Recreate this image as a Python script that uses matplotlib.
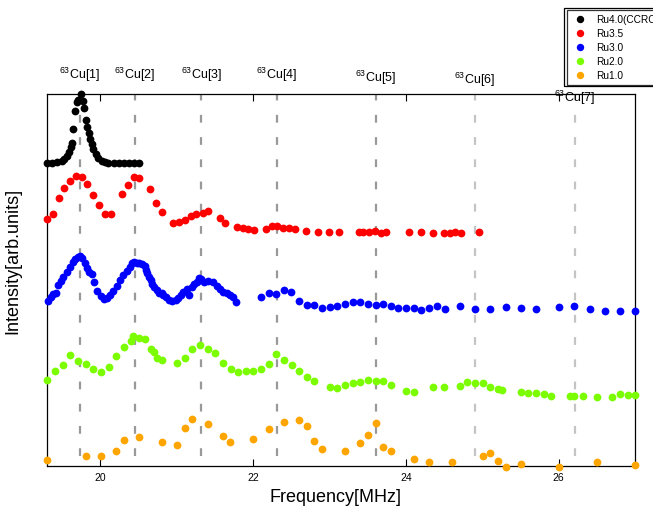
import numpy as np
import matplotlib
matplotlib.use("Agg")
import matplotlib.pyplot as plt
from matplotlib.patches import Rectangle

plt.rcParams['font.family'] = ['Liberation Sans', 'DejaVu Sans']
plt.rcParams['mathtext.fontset'] = 'custom'
plt.rcParams['mathtext.rm'] = 'Liberation Sans'
plt.rcParams['mathtext.default'] = 'regular'

##############################################
# Data (arbitrary intensity units with offsets)
##############################################
ru40_f = [19.295, 19.360, 19.426, 19.491, 19.522, 19.557, 19.591, 19.609, 19.623, 19.644,
          19.666, 19.688, 19.709, 19.741, 19.767, 19.784, 19.810, 19.827, 19.845, 19.862,
          19.885, 19.906, 19.937, 19.971, 20.016, 20.059, 20.102, 20.177, 20.242, 20.308,
          20.374, 20.439, 20.505]
ru40_i = [30.27, 30.27, 30.37, 30.5, 30.7, 31.03, 31.43, 31.93, 32.27, 33.7,
          35.5, 36.37, 36.6, 37.17, 36.5, 35.77, 34.6, 33.93, 33.27, 32.7,
          32.17, 31.7, 31.2, 30.83, 30.53, 30.37, 30.3, 30.27, 30.27, 30.27,
          30.27, 30.27, 30.27]

ru35_f = [19.303, 19.374, 19.456, 19.526, 19.600, 19.675, 19.754, 19.827, 19.906, 19.976,
          20.055, 20.134, 20.282, 20.356, 20.439, 20.509, 20.653, 20.731, 20.806, 20.950,
          21.033, 21.111, 21.182, 21.256, 21.339, 21.413, 21.566, 21.636, 21.785, 21.864,
          21.937, 22.016, 22.169, 22.248, 22.317, 22.392, 22.467, 22.545, 22.693, 22.847,
          22.999, 23.130, 23.392, 23.444, 23.523, 23.598, 23.672, 23.742, 24.047, 24.204,
          24.354, 24.502, 24.571, 24.646, 24.721, 24.957]
ru35_i = [24.67, 25.2, 26.83, 27.83, 28.5, 29.03, 28.93, 28.17, 27.1, 26.1,
          25.2, 25.17, 27.17, 28.07, 28.93, 28.8, 27.7, 26.27, 25.38, 24.27,
          24.43, 24.57, 25.0, 25.17, 25.33, 25.5, 24.83, 24.3, 23.87, 23.8,
          23.67, 23.63, 23.73, 23.97, 23.97, 23.83, 23.77, 23.7, 23.5, 23.37,
          23.43, 23.4, 23.37, 23.4, 23.43, 23.47, 23.3, 23.37, 23.37, 23.43,
          23.3, 23.33, 23.3, 23.37, 23.3, 23.43]

ru30_f = [19.316, 19.351, 19.381, 19.417, 19.447, 19.482, 19.512, 19.557, 19.600, 19.636,
          19.666, 19.701, 19.731, 19.761, 19.797, 19.819, 19.849, 19.885, 19.919, 19.958,
          20.003, 20.046, 20.081, 20.125, 20.168, 20.212, 20.256, 20.299, 20.343, 20.387,
          20.417, 20.443, 20.474, 20.505, 20.540, 20.583, 20.596, 20.613, 20.636, 20.662,
          20.679, 20.705, 20.737, 20.767, 20.802, 20.823, 20.855, 20.898, 20.941, 20.986,
          21.020, 21.055, 21.085, 21.130, 21.160, 21.195, 21.229, 21.261, 21.291, 21.317,
          21.360, 21.413, 21.478, 21.523, 21.566, 21.609, 21.654, 21.697, 21.740, 21.776,
          22.104, 22.204, 22.304, 22.401, 22.501, 22.602, 22.702, 22.802, 22.903, 23.004,
          23.104, 23.204, 23.305, 23.405, 23.506, 23.607, 23.706, 23.807, 23.903, 24.004,
          24.105, 24.204, 24.305, 24.406, 24.506, 24.703, 24.908, 25.101, 25.305, 25.507,
          25.704, 26.005, 26.206, 26.406, 26.608, 26.805, 27.001]
ru30_i = [16.53, 16.93, 17.17, 17.33, 18.1, 18.53, 18.87, 19.43, 19.93, 20.43,
          20.7, 20.87, 21.0, 20.77, 20.27, 19.77, 19.43, 19.17, 18.43, 17.53,
          17.0, 16.7, 16.77, 17.1, 17.53, 18.03, 18.6, 19.1, 19.53, 19.93,
          20.27, 20.43, 20.33, 20.27, 20.2, 20.0, 19.6, 19.27, 18.93, 18.6,
          18.2, 17.93, 17.6, 17.33, 17.27, 17.1, 16.87, 16.6, 16.53, 16.6,
          16.77, 17.1, 17.37, 17.67, 17.1, 17.93, 18.17, 18.43, 18.77, 18.67,
          18.43, 18.53, 18.43, 18.0, 17.67, 17.43, 17.27, 17.1, 16.87, 16.43,
          16.87, 17.3, 17.17, 17.57, 17.37, 16.53, 16.1, 16.07, 15.8, 15.87,
          16.0, 16.17, 16.43, 16.43, 16.23, 16.13, 16.23, 16.0, 15.8, 15.83,
          15.8, 15.6, 15.83, 16.0, 15.67, 16.0, 15.73, 15.73, 15.9, 15.83,
          15.73, 15.9, 15.97, 15.67, 15.53, 15.53, 15.53]

ru20_f = [19.303, 19.404, 19.505, 19.604, 19.705, 19.806, 19.906, 20.007, 20.107, 20.207,
          20.308, 20.400, 20.430, 20.505, 20.583, 20.658, 20.705, 20.737, 20.806, 21.003,
          21.104, 21.203, 21.304, 21.405, 21.505, 21.606, 21.706, 21.806, 21.903, 22.003,
          22.104, 22.204, 22.304, 22.405, 22.506, 22.606, 22.702, 22.802, 23.004, 23.104,
          23.204, 23.305, 23.405, 23.506, 23.602, 23.699, 23.803, 24.004, 24.105, 24.354,
          24.502, 24.703, 24.803, 24.904, 25.004, 25.105, 25.201, 25.253, 25.507, 25.603,
          25.704, 25.803, 25.900, 26.153, 26.206, 26.315, 26.503, 26.704, 26.805, 26.904,
          27.005]
ru20_i = [8.6, 9.53, 10.1, 11.07, 10.5, 10.2, 9.7, 9.4, 9.87, 11.03,
          11.93, 12.53, 13.0, 12.77, 12.67, 11.7, 11.37, 10.8, 10.6, 10.3,
          10.83, 11.73, 12.13, 11.7, 11.27, 10.33, 9.7, 9.4, 9.47, 9.53,
          9.73, 10.23, 11.17, 10.57, 10.1, 9.53, 8.9, 8.53, 7.93, 7.83,
          8.1, 8.27, 8.43, 8.6, 8.53, 8.5, 8.07, 7.53, 7.4, 7.87,
          7.9, 8.03, 8.37, 8.33, 8.27, 7.87, 7.7, 7.63, 7.4, 7.33,
          7.3, 7.23, 7.03, 7.0, 7.0, 7.0, 6.93, 6.93, 7.23, 7.13,
          7.13]

ru10_f = [19.303, 19.806, 20.003, 20.203, 20.304, 20.505, 20.806, 21.003, 21.104, 21.203,
          21.405, 21.602, 21.701, 22.003, 22.204, 22.405, 22.606, 22.702, 22.802, 22.903,
          23.204, 23.401, 23.502, 23.602, 23.699, 23.803, 24.105, 24.301, 24.603, 25.004,
          25.105, 25.206, 25.305, 25.502, 26.000, 26.503, 27.005]
ru10_i = [0.6, 1.03, 1.03, 1.5, 2.6, 2.9, 2.43, 2.1, 3.83, 4.67,
          4.2, 3.03, 2.43, 2.67, 3.67, 4.43, 4.63, 4.03, 2.53, 1.73,
          1.53, 2.33, 3.07, 4.27, 1.93, 1.53, 0.67, 0.37, 0.37, 0.97,
          1.33, 0.53, -0.07, 0.17, -0.07, 0.37, 0.1]

series_labels = ["Ru4.0(CCRO)", "Ru3.5", "Ru3.0", "Ru2.0", "Ru1.0"]
series_colors = ["black", "#ff0000", "#0000ff", "#7cfc00", "#ffa500"]

cu_freq = [19.731, 20.448, 21.321, 22.309, 23.607, 24.904, 26.210]
cu_label_y = [39.1, 39.1, 39.1, 39.1, 38.8, 38.6, 36.8]
cu_colors = ["#999999"] * 5 + ["#c4c4c4"] * 2

##############################################
# Plot
##############################################
fig = plt.figure(figsize=(6.53, 5.13), dpi=100)
ax = fig.add_axes([0.072, 0.0916, 0.9004, 0.7252])

for k in range(len(cu_freq)):
    ax.plot([cu_freq[k], cu_freq[k]], [1.0, 37.2], color=cu_colors[k], lw=1.6,
            dashes=(3.5, 6.5), zorder=1)
    ax.text(cu_freq[k], cu_label_y[k], "$^{63}$Cu[%d]" % (k + 1), fontsize=9,
            ha="center", va="center", clip_on=False)

all_f = [ru40_f, ru35_f, ru30_f, ru20_f, ru10_f]
all_i = [ru40_i, ru35_i, ru30_i, ru20_i, ru10_i]
for f, y, lab, col in zip(all_f, all_i, series_labels, series_colors):
    ax.plot(f, y, "o", color=col, ms=5.6, mew=0, label=lab, clip_on=False, zorder=3)

ax.set_xlim(19.3, 27.0)
ax.set_ylim(0, 37.2)
ax.set_xticks([20, 22, 24, 26])
ax.set_yticks([])
ax.tick_params(axis="x", direction="in", top=True, length=5, width=0.8,
               labelsize=7.5, pad=5)
for s in ax.spines.values():
    s.set_linewidth(0.9)

ax.set_xlabel("Frequency[MHz]", fontsize=13)
ax.xaxis.set_label_coords(0.49, -0.063)
ax.set_ylabel("Intensity[arb.units]", fontsize=13)
ax.yaxis.set_label_coords(-0.044, 0.55)

leg = fig.legend(loc="upper left", bbox_to_anchor=(567 / 653, 1 - 10 / 513),
                 fontsize=7.3, frameon=True, fancybox=False, borderaxespad=0,
                 borderpad=0.45, handlelength=1.6, handletextpad=0.8,
                 labelspacing=0.4, markerscale=0.95)
leg.get_frame().set_edgecolor("black")
leg.get_frame().set_linewidth(0.9)
fig.add_artist(Rectangle((564 / 653, 1 - 86 / 513), 0.2, 78 / 513,
                         transform=fig.transFigure, fill=False, lw=0.9,
                         edgecolor="black"))

fig.savefig("out.png", dpi=100)
